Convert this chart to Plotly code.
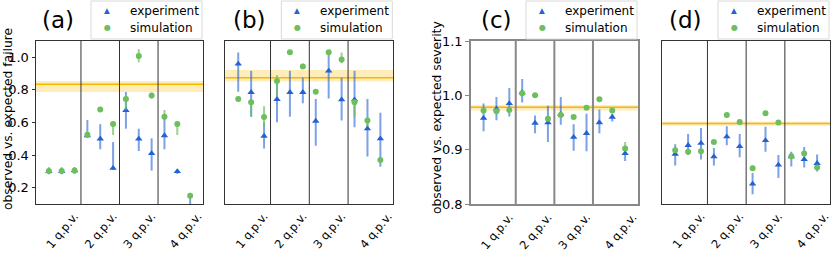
import plotly.graph_objects as go

# ---------------- data ----------------
positions = list(range(12))
group_ticks = [2.0, 5.0, 8.0, 11.6]
group_labels = ["1 q.p.v.", "2 q.p.v.", "3 q.p.v.", "4 q.p.v."]
separators = [2.5, 5.5, 8.5]
series_names = ["experiment", "simulation"]

a_exp = [0.300, 0.300, 0.305, 0.520, 0.500, 0.320, 0.675, 0.500, 0.410, 0.520, 0.300, 0.080]
a_exp_hi = [0.325, 0.325, 0.325, 0.615, 0.590, 0.480, 0.787, 0.562, 0.503, 0.640, 0.310, 0.140]
a_exp_lo = [0.282, 0.282, 0.285, 0.505, 0.436, 0.309, 0.562, 0.425, 0.305, 0.436, 0.285, 0.020]
a_sim = [0.302, 0.302, 0.305, 0.525, 0.679, 0.591, 0.744, 1.008, 0.765, 0.635, 0.591, 0.151]
a_sim_hi = [0.310, 0.310, 0.315, 0.535, 0.690, 0.603, 0.759, 1.050, 0.783, 0.677, 0.597, 0.168]
a_sim_lo = [0.295, 0.295, 0.298, 0.510, 0.668, 0.523, 0.677, 0.969, 0.748, 0.620, 0.523, 0.135]
a_ref, a_ref_lo, a_ref_hi = 0.834, 0.787, 0.855

b_exp = [0.959, 0.785, 0.517, 0.742, 0.785, 0.785, 0.609, 0.916, 0.740, 0.740, 0.562, 0.501]
b_exp_hi = [1.029, 0.918, 0.600, 0.861, 0.918, 0.875, 0.744, 1.039, 0.875, 0.918, 0.744, 0.660]
b_exp_lo = [0.789, 0.636, 0.440, 0.601, 0.636, 0.718, 0.458, 0.748, 0.613, 0.571, 0.391, 0.329]
b_sim = [0.744, 0.724, 0.634, 0.855, 1.031, 0.943, 0.789, 1.031, 0.986, 0.724, 0.613, 0.370]
b_sim_hi = [0.759, 0.738, 0.700, 0.892, 1.040, 0.960, 0.800, 1.040, 1.029, 0.738, 0.630, 0.378]
b_sim_lo = [0.730, 0.636, 0.575, 0.759, 1.020, 0.930, 0.778, 1.020, 0.963, 0.636, 0.575, 0.362]
b_ref, b_ref_lo, b_ref_hi = 0.875, 0.851, 0.922

c_exp = [0.958, 0.975, 0.985, 1.005, 0.949, 0.950, 0.965, 0.923, 0.930, 0.950, 0.960, 0.893]
c_exp_hi = [0.985, 0.997, 1.0135, 1.030, 0.963, 0.981, 0.997, 0.947, 0.966, 0.974, 0.966, 0.903]
c_exp_lo = [0.934, 0.954, 0.961, 0.987, 0.930, 0.914, 0.946, 0.898, 0.897, 0.930, 0.952, 0.879]
c_sim = [0.972, 0.9705, 0.973, 1.0037, 1.000, 0.957, 0.964, 0.960, 0.977, 0.993, 0.972, 0.902]
c_sim_hi = [0.976, 0.9745, 0.977, 1.0077, 1.004, 0.961, 0.968, 0.964, 0.981, 0.997, 0.976, 0.914]
c_sim_lo = [0.968, 0.9665, 0.969, 0.9997, 0.996, 0.953, 0.960, 0.956, 0.973, 0.989, 0.968, 0.897]
c_ref, c_ref_lo, c_ref_hi = 0.978, 0.972, 0.982

d_exp = [0.892, 0.908, 0.912, 0.887, 0.924, 0.906, 0.837, 0.917, 0.872, 0.887, 0.882, 0.875]
d_exp_hi = [0.910, 0.929, 0.940, 0.903, 0.943, 0.929, 0.857, 0.942, 0.890, 0.896, 0.905, 0.891]
d_exp_lo = [0.871, 0.890, 0.882, 0.871, 0.908, 0.886, 0.818, 0.896, 0.848, 0.869, 0.867, 0.860]
d_sim = [0.899, 0.896, 0.897, 0.914, 0.964, 0.951, 0.866, 0.967, 0.950, 0.888, 0.893, 0.867]
d_sim_hi = [0.903, 0.900, 0.901, 0.918, 0.968, 0.955, 0.871, 0.971, 0.954, 0.892, 0.897, 0.871]
d_sim_lo = [0.895, 0.892, 0.893, 0.910, 0.960, 0.947, 0.861, 0.963, 0.946, 0.884, 0.889, 0.863]
d_ref, d_ref_lo, d_ref_hi = 0.948, 0.944, 0.952

panel_titles = ["(a)", "(b)", "(c)", "(d)"]
ylabels = ["observed vs. expected failure", None, "observed vs. expected severity", None]

# ---------------- styling / layout ----------------
W, H = 831, 253
BLUE = "#2462d4"
BLUE_A = "rgba(36,98,212,0.6)"
GREEN = "#6cbf5c"
GREEN_A = "rgba(108,191,92,0.7)"
ORANGE = "#f5b700"
BAND = "rgba(253,215,100,0.45)"
FONT = "DejaVu Sans"

panels = [
    (a_exp, a_exp_hi, a_exp_lo, a_sim, a_sim_hi, a_sim_lo, a_ref, a_ref_lo, a_ref_hi),
    (b_exp, b_exp_hi, b_exp_lo, b_sim, b_sim_hi, b_sim_lo, b_ref, b_ref_lo, b_ref_hi),
    (c_exp, c_exp_hi, c_exp_lo, c_sim, c_sim_hi, c_sim_lo, c_ref, c_ref_lo, c_ref_hi),
    (d_exp, d_exp_hi, d_exp_lo, d_sim, d_sim_hi, d_sim_lo, d_ref, d_ref_lo, d_ref_hi),
]

x_px = [(36, 203), (225.3, 393.3), (470.7, 638), (662.3, 830)]
y_dom = [(H - 204) / H, (H - 41) / H]
title_cx = [58, 249, 496, 685]
ylabel_cx = [8, None, 437, None]
ylabel_cy = [119, None, 117, None]

fig = go.Figure()
layout = dict(
    width=W, height=H,
    margin=dict(l=0, r=0, t=0, b=0, autoexpand=False),
    paper_bgcolor="white", plot_bgcolor="white",
    font=dict(family=FONT, size=12, color="black"),
    showlegend=False,
)
shapes = []
annotations = []


def P(px, py):
    return px / W, 1 - py / H


for i, (ex, exh, exl, sm, smh, sml, ref, rlo, rhi) in enumerate(panels):
    n = "" if i == 0 else str(i + 1)
    xa, ya = "x" + n, "y" + n
    spine_col = "#888888" if i == 2 else "#333333"
    spine_w = 2 if i == 2 else 1

    fig.add_trace(go.Scatter(
        x=positions, y=ex, mode="markers", name=series_names[0],
        marker=dict(symbol="triangle-up", size=6.5, color=BLUE),
        error_y=dict(type="data", symmetric=False,
                     array=[h - v for h, v in zip(exh, ex)],
                     arrayminus=[v - l for v, l in zip(ex, exl)],
                     color=BLUE_A, thickness=2, width=0),
        xaxis=xa, yaxis=ya, cliponaxis=True))
    fig.add_trace(go.Scatter(
        x=positions, y=sm, mode="markers", name=series_names[1],
        marker=dict(symbol="circle", size=6, color=GREEN),
        error_y=dict(type="data", symmetric=False,
                     array=[h - v for h, v in zip(smh, sm)],
                     arrayminus=[v - l for v, l in zip(sm, sml)],
                     color=GREEN_A, thickness=2, width=0),
        xaxis=xa, yaxis=ya, cliponaxis=True))

    x0, x1 = x_px[i]
    layout["xaxis" + n] = dict(
        domain=[x0 / W, x1 / W], anchor=ya, range=[-1, 12],
        tickmode="array", tickvals=group_ticks, ticktext=group_labels,
        tickangle=-50, ticks="", showgrid=False, zeroline=False, automargin=False,
        ticklabeloverflow="allow",
        showline=True, mirror=True, linecolor=spine_col, linewidth=spine_w,
        tickfont=dict(size=11.5, family=FONT))
    ycfg = dict(domain=list(y_dom), anchor=xa, showgrid=False, zeroline=False,
                automargin=False,
                showline=True, mirror=True, linecolor=spine_col, linewidth=spine_w,
                ticks="outside", ticklen=3.5, tickcolor="#333333",
                tickfont=dict(size=13, family=FONT))
    if i == 0:
        ycfg.update(range=[0.1, 1.1], tickvals=[0.2, 0.4, 0.6, 0.8, 1.0],
                    ticktext=["0.2", "0.4", "0.6", "0.8", "1.0"])
    elif i == 1:
        ycfg.update(range=[0.1, 1.1], showticklabels=False, ticks="")
    elif i == 2:
        ycfg.update(range=[0.8, 1.1], tickvals=[0.8, 0.9, 1.0, 1.1],
                    ticktext=["0.8", "0.9", "1.0", "1.1"], tickcolor="#888888")
    else:
        ycfg.update(range=[0.8, 1.1], showticklabels=False, ticks="")
    layout["yaxis" + n] = ycfg

    # reference band and line
    shapes.append(dict(type="rect", xref=xa + " domain", yref=ya, x0=0, x1=1,
                       y0=rlo, y1=rhi, fillcolor=BAND, line=dict(width=0), layer="below"))
    shapes.append(dict(type="line", xref=xa + " domain", yref=ya, x0=0, x1=1,
                       y0=ref, y1=ref, line=dict(color=ORANGE, width=1.5), layer="below"))
    for s in separators:
        shapes.append(dict(type="line", xref=xa, yref=ya + " domain", x0=s, x1=s,
                           y0=0, y1=1, line=dict(color=spine_col, width=spine_w), layer="above"))

    # legend box (matplotlib-style, per panel)
    lx0, lx1 = x1 - 112, x1 - 1
    bx0, by0 = P(lx0, 1)
    bx1, by1 = P(lx1, 39)
    shapes.append(dict(type="rect", xref="paper", yref="paper", x0=bx0, x1=bx1,
                       y0=by1, y1=by0, fillcolor="rgba(255,255,255,0.85)",
                       line=dict(color="#d9d9d9", width=1), layer="above"))
    for row, (name, sym, col, fs) in enumerate([(series_names[0], "▲", BLUE, 7.5),
                                                 (series_names[1], "●", GREEN, 8)]):
        cy = 11 + row * 16.5
        mx, my = P(lx0 + 16, cy)
        annotations.append(dict(text=sym, x=mx, y=my, xref="paper", yref="paper",
                                showarrow=False, xanchor="center", yanchor="middle",
                                font=dict(size=fs, color=col, family=FONT)))
        tx, ty = P(lx0 + 37, cy)
        annotations.append(dict(text=name, x=tx, y=ty, xref="paper", yref="paper",
                                showarrow=False, xanchor="left", yanchor="middle",
                                font=dict(size=12, color="black", family=FONT)))

    tx, ty = P(title_cx[i], 20)
    annotations.append(dict(text=panel_titles[i], x=tx, y=ty,
                            xref="paper", yref="paper", showarrow=False,
                            xanchor="center", yanchor="middle",
                            font=dict(size=23, family=FONT)))
    if ylabels[i]:
        lx, ly = P(ylabel_cx[i], ylabel_cy[i])
        annotations.append(dict(text=ylabels[i], x=lx, y=ly,
                                xref="paper", yref="paper", showarrow=False,
                                textangle=-90, xanchor="center", yanchor="middle",
                                font=dict(size=12.3, family=FONT)))

layout["shapes"] = shapes
layout["annotations"] = annotations
fig.update_layout(**layout)
fig.write_html("out.html", config={"displayModeBar": False},
               post_script="document.body.style.margin='0px';")
